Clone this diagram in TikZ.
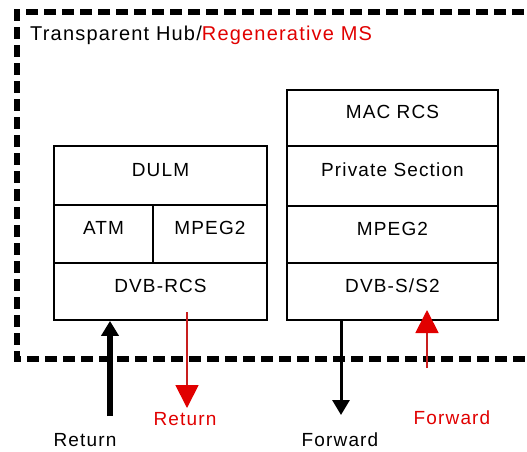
\documentclass[tikz,border=0pt]{standalone}
\usepackage{fontspec}
\setmainfont{Liberation Sans}[LetterSpace=6]
\usetikzlibrary{arrows.meta}
\definecolor{hubred}{RGB}{225,0,0}
\definecolor{linered}{RGB}{200,30,30}
\tikzset{
  layer/.style={draw=black, line width=1.8pt, rectangle, inner sep=0pt,
    text height=10pt, text depth=8.4pt, font=\fontsize{19}{22}\selectfont},
  caption/.style={inner sep=0pt, font=\fontsize{19}{22}\selectfont},
  frame/.style={line width=5.5pt, dash pattern=on 12pt off 6pt},
  blackflow/.style={draw=black, -{Triangle[width=17pt,length=15pt]}},
  redflow/.style={draw=linered, line width=1.8pt,
    -{Triangle[width=23pt,length=23pt,fill=hubred,color=hubred]}}
}
\begin{document}
\begin{tikzpicture}[x=1pt,y=-1pt]
\useasboundingbox[fill=white] (0,0) rectangle (527,451);
\clip (0,0) rectangle (527,451);

% dashed enclosure (open to the right)
\draw[frame] (560,12) -- (17,12) -- (17,359) -- (560,359);
\node[caption, anchor=base west, font=\fontsize{20}{23}\selectfont] (title) at (30,40)
  {Transparent Hub/\textcolor{hubred}{Regenerative MS}};

% return-link protocol stack
\node[layer, minimum width=213pt, minimum height=59pt] (dulm)  at (160.5,175.5) {DULM};
\node[layer, minimum width=99pt,  minimum height=58pt] (atm)   at (103.5,234)   {ATM};
\node[layer, minimum width=114pt, minimum height=58pt] (mpegl) at (210,234)     {MPEG2};
\node[layer, minimum width=213pt, minimum height=57pt] (rcs)   at (160.5,291.5) {DVB-RCS};

% forward-link protocol stack
\node[layer, minimum width=211pt, minimum height=56pt] (mac)   at (392.5,118)   {MAC RCS};
\node[layer, minimum width=211pt, minimum height=60pt] (priv)  at (392.5,176)   {Private Section};
\node[layer, minimum width=211pt, minimum height=57pt] (mpegr) at (392.5,234.5) {MPEG2};
\node[layer, minimum width=211pt, minimum height=57pt] (dvbs)  at (392.5,291.5) {DVB-S/S2};

% flow labels
\node[caption] (retb) at (85,440) {Return};
\node[caption, text=hubred] (retr) at (185,419) {Return};
\node[caption] (fwdb) at (340,440) {Forward};
\node[caption, text=hubred] (fwdr) at (452,418) {Forward};

% arrow end points
\coordinate (retbS) at (110,416);
\coordinate (retrS) at (187,312);
\coordinate (retrE) at (187,408);
\coordinate (fwdbE) at (341,415);
\coordinate (fwdrS) at (427,368);
\coordinate (fwdrE) at (427,310);

% flows
\draw[blackflow, line width=5.5pt] (retbS) -- (retbS |- rcs.south);
\draw[redflow] (retrS) -- (retrE);
\draw[blackflow, line width=3pt] (fwdbE |- dvbs.south) -- (fwdbE);
\draw[redflow] (fwdrS) -- (fwdrE);
\end{tikzpicture}
\end{document}
